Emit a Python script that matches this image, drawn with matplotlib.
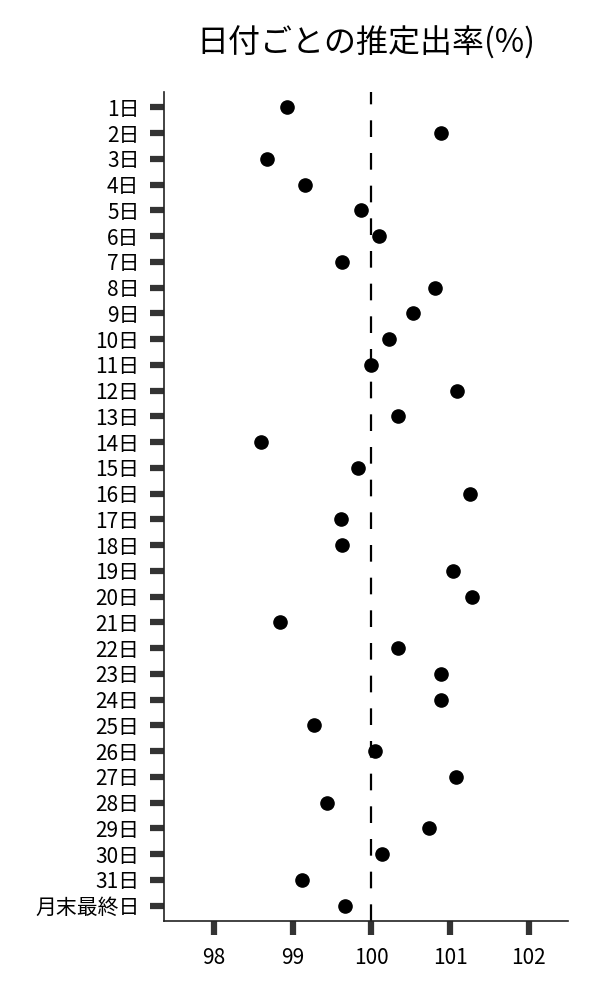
import numpy as np
import matplotlib.pyplot as plt

plt.rcParams['font.family'] = ['Noto Sans CJK JP', 'DejaVu Sans']

# --- Data ---
days = [f'{d}日' for d in range(1, 32)] + ['月末最終日']
rates = [98.93, 100.88, 98.67, 99.15, 99.87, 100.09, 99.62, 100.81,
         100.53, 100.22, 99.99, 101.09, 100.34, 98.60, 99.83, 101.25,
         99.61, 99.62, 101.04, 101.28, 98.84, 100.34, 100.88, 100.89,
         99.27, 100.04, 101.08, 99.43, 100.73, 100.13, 99.12, 99.66]
x_ticks = [98, 99, 100, 101, 102]


def draw():
    fig = plt.figure(figsize=(6, 10), dpi=100)
    ax = fig.add_axes([0.274, 0.079, 0.673, 0.829])

    y = np.arange(len(days))
    ax.axvline(100, color='black', linestyle=(0, (7.5, 7.2)), linewidth=1.6, zorder=1)
    ax.plot(rates, y, 'o', color='black', markersize=9.5, zorder=3)

    ax.set_yticks(y)
    ax.set_yticklabels(days)
    ax.set_xticks(x_ticks)
    ax.set_xlim(97.37, 102.5)
    ax.set_ylim(len(days) - 0.4, -0.6)

    for side in ['top', 'right']:
        ax.spines[side].set_visible(False)
    for side in ['left', 'bottom']:
        ax.spines[side].set_color('#222222')
        ax.spines[side].set_linewidth(1.2)

    ax.tick_params(axis='both', colors='#333333', width=4.5, length=10,
                   labelsize=15, labelcolor='black')
    ax.tick_params(axis='y', pad=8)
    ax.tick_params(axis='x', pad=9)

    ax.set_title('日付ごとの推定出率(%)', fontsize=23, pad=28)
    fig.savefig('out.png')


if __name__ == "__main__":
    draw()
